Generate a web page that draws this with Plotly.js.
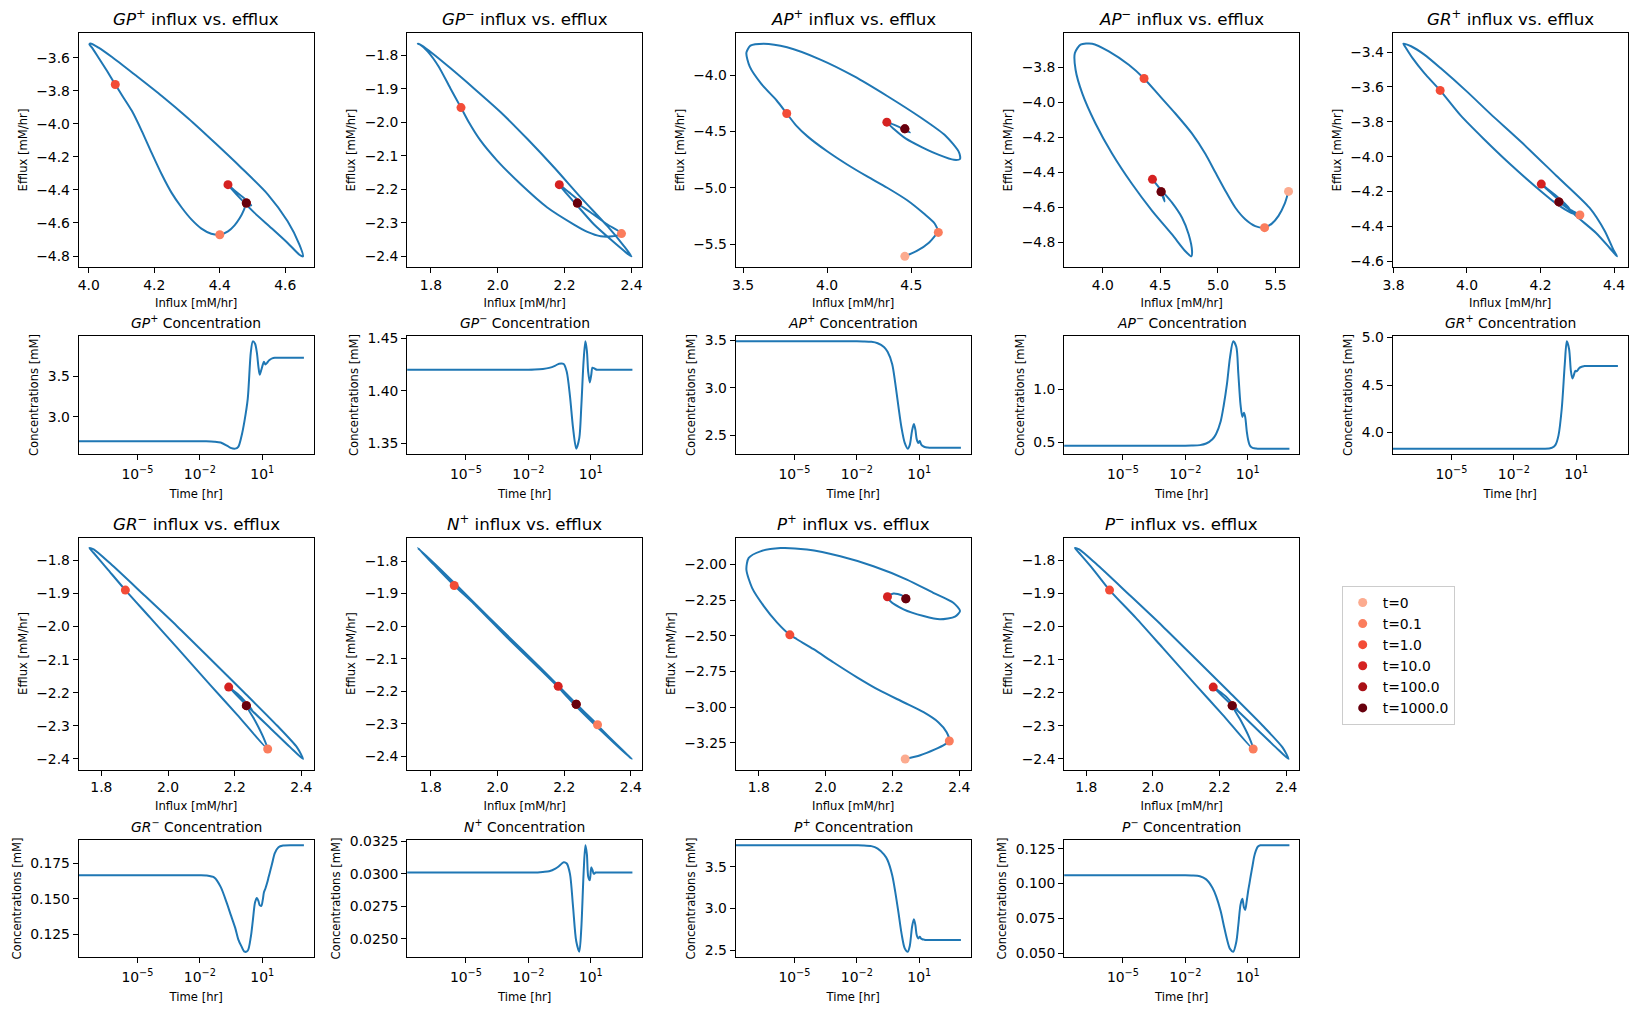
<!DOCTYPE html>
<html><head><meta charset="utf-8">
<script src="https://cdn.plot.ly/plotly-3.0.1.min.js"></script>
<style>html,body{margin:0;padding:0;background:#fff}#chart{width:1637px;height:1014px}</style>
</head><body><div id="chart"></div>
<script>
// ---------------- DATA ----------------
const speciesBase = ['GP','GP','AP','AP','GR','GR','N','P','P'];
const speciesSign = ['+','\u2212','+','\u2212','+','\u2212','+','+','\u2212'];
const markerTimes = ['t=0','t=0.1','t=1.0','t=10.0','t=100.0','t=1000.0'];

// phase-plane trajectories (influx, efflux) [mM/hr]
const influxGPp = [4.481,4.474,4.461,4.445,4.425,4.400,4.374,4.344,4.314,4.283,4.253,4.223,4.192,4.162,4.132,4.101,4.081,4.056,4.030,4.010,4.002,4.008,4.030,4.071,4.142,4.223,4.304,4.385,4.466,4.547,4.607,4.643,4.654,4.643,4.607,4.557,4.506,4.466,4.435,4.425,4.445,4.476,4.496,4.491,4.481];
const effluxGPp = [-4.479,-4.519,-4.570,-4.614,-4.651,-4.671,-4.665,-4.634,-4.580,-4.505,-4.418,-4.307,-4.176,-4.044,-3.923,-3.826,-3.762,-3.681,-3.600,-3.539,-3.519,-3.515,-3.539,-3.596,-3.705,-3.832,-3.968,-4.115,-4.267,-4.428,-4.590,-4.731,-4.802,-4.792,-4.721,-4.630,-4.539,-4.459,-4.392,-4.368,-4.404,-4.453,-4.493,-4.493,-4.479];

const influxGPm = [2.238,2.278,2.328,2.370,2.343,2.308,2.268,2.228,2.148,2.068,1.998,1.948,1.913,1.890,1.858,1.823,1.790,1.768,1.761,1.773,1.803,1.858,1.928,2.008,2.088,2.168,2.248,2.328,2.378,2.400,2.383,2.338,2.288,2.238,2.198,2.184,2.213,2.243,2.250,2.238];
const effluxGPm = [-2.241,-2.269,-2.305,-2.332,-2.340,-2.340,-2.327,-2.305,-2.254,-2.184,-2.114,-2.054,-1.999,-1.956,-1.898,-1.833,-1.788,-1.768,-1.765,-1.771,-1.793,-1.838,-1.898,-1.969,-2.049,-2.134,-2.224,-2.310,-2.370,-2.400,-2.388,-2.350,-2.305,-2.249,-2.204,-2.186,-2.209,-2.234,-2.244,-2.241];

const influxAPp = [4.462,4.536,4.605,4.645,4.661,4.639,4.575,4.476,4.357,4.238,4.119,4.000,3.885,3.815,3.760,3.700,3.610,3.540,3.520,3.544,3.623,3.762,3.960,4.159,4.357,4.556,4.704,4.784,4.790,4.754,4.665,4.565,4.466,4.397,4.355,4.427,4.492,4.462];
const effluxAPp = [-5.606,-5.556,-5.485,-5.418,-5.394,-5.315,-5.227,-5.109,-4.998,-4.898,-4.792,-4.675,-4.545,-4.445,-4.340,-4.225,-4.080,-3.925,-3.803,-3.739,-3.721,-3.753,-3.862,-4.009,-4.185,-4.376,-4.537,-4.684,-4.743,-4.751,-4.707,-4.640,-4.561,-4.478,-4.417,-4.458,-4.508,-4.476];

const influxAPm = [5.613,5.578,5.526,5.468,5.405,5.324,5.237,5.150,5.064,4.977,4.890,4.775,4.630,4.486,4.358,4.225,4.052,3.908,3.806,3.757,3.763,3.821,3.936,4.081,4.254,4.428,4.601,4.717,4.769,4.775,4.746,4.688,4.601,4.500,4.431,4.486,4.529,4.535,4.506];
const effluxAPm = [-4.510,-4.583,-4.650,-4.694,-4.717,-4.708,-4.669,-4.602,-4.506,-4.401,-4.295,-4.180,-4.065,-3.959,-3.865,-3.787,-3.710,-3.666,-3.672,-3.719,-3.815,-3.950,-4.122,-4.295,-4.468,-4.621,-4.756,-4.852,-4.881,-4.852,-4.756,-4.660,-4.574,-4.497,-4.441,-4.487,-4.545,-4.568,-4.512];

const influxGRp = [4.250,4.279,4.307,4.283,4.243,4.189,4.117,4.045,3.982,3.927,3.884,3.852,3.834,3.827,3.848,3.884,3.928,4.000,4.063,4.153,4.243,4.333,4.375,4.398,4.408,4.388,4.351,4.297,4.243,4.202,4.243,4.279,4.250];
const effluxGRp = [-4.259,-4.302,-4.334,-4.321,-4.269,-4.176,-4.042,-3.897,-3.762,-3.620,-3.521,-3.435,-3.377,-3.352,-3.367,-3.415,-3.492,-3.627,-3.753,-3.926,-4.109,-4.292,-4.427,-4.533,-4.571,-4.523,-4.437,-4.340,-4.234,-4.157,-4.225,-4.296,-4.259];

const influxGRm = [2.235,2.262,2.287,2.299,2.207,2.127,2.027,1.947,1.872,1.817,1.777,1.764,1.777,1.827,1.927,2.027,2.127,2.227,2.327,2.387,2.405,2.367,2.307,2.247,2.182,2.217,2.252,2.235];
const effluxGRm = [-2.239,-2.286,-2.337,-2.370,-2.266,-2.177,-2.064,-1.974,-1.890,-1.825,-1.778,-1.763,-1.767,-1.810,-1.904,-1.999,-2.098,-2.198,-2.299,-2.365,-2.400,-2.365,-2.307,-2.249,-2.183,-2.211,-2.251,-2.239];

const influxNp = [2.236,2.270,2.300,2.230,2.130,2.029,1.929,1.870,1.809,1.761,1.829,1.929,2.029,2.130,2.230,2.330,2.402,2.330,2.230,2.182,2.210,2.250,2.236];
const effluxNp = [-2.240,-2.273,-2.303,-2.235,-2.135,-2.035,-1.931,-1.875,-1.811,-1.760,-1.826,-1.927,-2.028,-2.129,-2.232,-2.336,-2.408,-2.340,-2.240,-2.187,-2.212,-2.256,-2.240];

const influxPp = [2.238,2.283,2.327,2.357,2.370,2.362,2.337,2.293,2.233,2.163,2.094,2.024,1.964,1.914,1.893,1.855,1.815,1.780,1.763,1.770,1.805,1.865,1.944,2.044,2.143,2.243,2.322,2.382,2.402,2.387,2.342,2.293,2.233,2.193,2.185,2.203,2.228,2.240];
const effluxPp = [-3.364,-3.338,-3.297,-3.262,-3.238,-3.176,-3.106,-3.036,-2.966,-2.885,-2.791,-2.687,-2.594,-2.524,-2.493,-2.407,-2.291,-2.163,-2.035,-1.953,-1.907,-1.884,-1.895,-1.942,-2.012,-2.105,-2.198,-2.268,-2.326,-2.365,-2.384,-2.361,-2.314,-2.256,-2.226,-2.203,-2.216,-2.240];

const influxPm = [2.238,2.265,2.290,2.301,2.209,2.129,2.029,1.949,1.870,1.819,1.779,1.766,1.779,1.829,1.929,2.029,2.129,2.229,2.329,2.389,2.407,2.369,2.309,2.249,2.181,2.219,2.254,2.238];
const effluxPm = [-2.239,-2.286,-2.337,-2.370,-2.266,-2.177,-2.064,-1.974,-1.890,-1.825,-1.778,-1.763,-1.767,-1.810,-1.904,-1.999,-2.098,-2.198,-2.299,-2.365,-2.400,-2.365,-2.307,-2.249,-2.183,-2.211,-2.251,-2.239];

// marker positions at t = 0, 0.1, 1, 10, 100, 1000
const mInGPp = [4.481,4.400,4.081,4.425,4.481,4.481], mOutGPp = [-4.479,-4.671,-3.762,-4.368,-4.479,-4.479];
const mInGPm = [2.238,2.370,1.890,2.184,2.238,2.238], mOutGPm = [-2.241,-2.332,-1.956,-2.186,-2.241,-2.241];
const mInAPp = [4.462,4.661,3.760,4.355,4.462,4.462], mOutAPp = [-5.606,-5.394,-4.340,-4.417,-4.476,-4.476];
const mInAPm = [5.613,5.405,4.358,4.431,4.506,4.506], mOutAPm = [-4.510,-4.717,-3.865,-4.441,-4.512,-4.512];
const mInGRp = [4.250,4.307,3.927,4.202,4.250,4.250], mOutGRp = [-4.259,-4.334,-3.620,-4.157,-4.259,-4.259];
const mInGRm = [2.235,2.299,1.872,2.182,2.235,2.235], mOutGRm = [-2.239,-2.370,-1.890,-2.183,-2.239,-2.239];
const mInNp  = [2.236,2.300,1.870,2.182,2.236,2.236], mOutNp  = [-2.240,-2.303,-1.875,-2.185,-2.240,-2.240];
const mInPp  = [2.238,2.370,1.893,2.185,2.240,2.240], mOutPp  = [-3.364,-3.238,-2.493,-2.226,-2.240,-2.240];
const mInPm  = [2.238,2.301,1.870,2.181,2.238,2.238], mOutPm  = [-2.239,-2.370,-1.890,-2.183,-2.239,-2.239];

// concentration time courses [mM] vs time [hr]
const timeHr = [1e-8,1e-4,1e-3,0.005,0.01,0.02,0.05,0.1,0.2,0.3,0.5,0.7,1,1.4,2,2.8,3.5,4.5,5.5,6.5,7.5,9,10.5,12,14,17,20,25,30,40,60,100,300,1000];
const concGPp = [2.700,2.700,2.700,2.700,2.700,2.699,2.694,2.683,2.645,2.618,2.608,2.630,2.76,2.95,3.22,3.79,3.93,3.90,3.79,3.62,3.52,3.58,3.64,3.68,3.645,3.665,3.69,3.71,3.72,3.727,3.729,3.729,3.729,3.729];
const concGPm = [1.420,1.420,1.420,1.420,1.420,1.4202,1.4208,1.4218,1.4240,1.4258,1.4255,1.4180,1.395,1.365,1.345,1.355,1.385,1.428,1.447,1.438,1.418,1.408,1.415,1.422,1.4215,1.4205,1.420,1.420,1.420,1.420,1.420,1.420,1.420,1.420];
const concAPp = [3.49,3.49,3.49,3.49,3.49,3.489,3.485,3.47,3.43,3.38,3.25,3.05,2.80,2.58,2.42,2.36,2.40,2.55,2.62,2.56,2.46,2.42,2.44,2.41,2.39,2.38,2.375,2.372,2.37,2.37,2.37,2.37,2.37,2.37];
const concAPm = [0.47,0.47,0.47,0.47,0.47,0.471,0.475,0.49,0.53,0.58,0.70,0.85,1.05,1.30,1.45,1.40,1.15,0.85,0.74,0.78,0.74,0.60,0.52,0.48,0.46,0.45,0.445,0.443,0.442,0.442,0.442,0.442,0.442,0.442];
const concGRp = [3.83,3.83,3.83,3.83,3.83,3.83,3.83,3.83,3.83,3.83,3.832,3.84,3.87,3.97,4.25,4.72,4.96,4.88,4.65,4.57,4.60,4.65,4.645,4.66,4.68,4.69,4.695,4.70,4.70,4.70,4.70,4.70,4.70,4.70];
const concGRm = [0.1665,0.1665,0.1665,0.1665,0.1665,0.1663,0.1648,0.1583,0.1467,0.139,0.1295,0.1215,0.1165,0.1128,0.1135,0.1230,0.1345,0.1475,0.1505,0.1485,0.1455,0.1450,0.149,0.1545,0.157,0.161,0.165,0.1705,0.175,0.182,0.1862,0.1873,0.1875,0.1875];
const concNp  = [0.0301,0.0301,0.0301,0.0301,0.0301,0.0301,0.03015,0.0302,0.0304,0.0306,0.0309,0.0308,0.0300,0.0275,0.0248,0.0240,0.0258,0.0300,0.0322,0.0315,0.0298,0.0295,0.0305,0.0303,0.0300,0.0301,0.0301,0.0301,0.0301,0.0301,0.0301,0.0301,0.0301,0.0301];
const concPp  = [3.76,3.76,3.76,3.76,3.76,3.759,3.75,3.72,3.65,3.58,3.40,3.20,2.95,2.70,2.52,2.48,2.55,2.78,2.87,2.80,2.68,2.64,2.66,2.64,2.63,2.625,2.62,2.62,2.62,2.62,2.62,2.62,2.62,2.62];
const concPm  = [0.106,0.106,0.106,0.106,0.106,0.1058,0.1052,0.103,0.097,0.091,0.080,0.070,0.060,0.053,0.051,0.058,0.070,0.085,0.089,0.083,0.081,0.088,0.095,0.100,0.106,0.113,0.119,0.124,0.1265,0.1275,0.1275,0.1275,0.1275,0.1275];

// tick labels
const phaseXTicks = [[4.0,4.2,4.4,4.6],[1.8,2.0,2.2,2.4],[3.5,4.0,4.5],[4.0,4.5,5.0,5.5],[3.8,4.0,4.2,4.4],[1.8,2.0,2.2,2.4],[1.8,2.0,2.2,2.4],[1.8,2.0,2.2,2.4],[1.8,2.0,2.2,2.4]];
const phaseYTicks = [[-3.6,-3.8,-4.0,-4.2,-4.4,-4.6,-4.8],[-1.8,-1.9,-2.0,-2.1,-2.2,-2.3,-2.4],[-4.0,-4.5,-5.0,-5.5],[-3.8,-4.0,-4.2,-4.4,-4.6,-4.8],[-3.4,-3.6,-3.8,-4.0,-4.2,-4.4,-4.6],[-1.8,-1.9,-2.0,-2.1,-2.2,-2.3,-2.4],[-1.8,-1.9,-2.0,-2.1,-2.2,-2.3,-2.4],[-2.00,-2.25,-2.50,-2.75,-3.00,-3.25],[-1.8,-1.9,-2.0,-2.1,-2.2,-2.3,-2.4]];
const concYTicks = [[3.0,3.5],[1.35,1.40,1.45],[2.5,3.0,3.5],[0.5,1.0],[4.0,4.5,5.0],[0.125,0.150,0.175],[0.0250,0.0275,0.0300,0.0325],[2.5,3.0,3.5],[0.050,0.075,0.100,0.125]];
const timeTickVals = [1e-5,1e-2,10];
const timeTickText = ['10<sup>\u22125</sup>','10<sup>\u22122</sup>','10<sup>1</sup>'];

// ---------------- BUILD ----------------
const influx = [influxGPp,influxGPm,influxAPp,influxAPm,influxGRp,influxGRm,influxNp,influxPp,influxPm];
const efflux = [effluxGPp,effluxGPm,effluxAPp,effluxAPm,effluxGRp,effluxGRm,effluxNp,effluxPp,effluxPm];
const mIn = [mInGPp,mInGPm,mInAPp,mInAPm,mInGRp,mInGRm,mInNp,mInPp,mInPm];
const mOut = [mOutGPp,mOutGPm,mOutAPp,mOutAPm,mOutGRp,mOutGRm,mOutNp,mOutPp,mOutPm];
const conc = [concGPp,concGPm,concAPp,concAPm,concGRp,concGRm,concNp,concPp,concPm];

const W = 1637, H = 1014;
const colLeft = [78.7, 407.2, 735.7, 1064.2, 1392.7];
const boxW = 235;
const phaseRows = [[33, 267], [537.5, 769.5]];
const concRows = [[336, 454], [840, 957]];
const lineColor = '#1f77b4';
const markerColors = ['#fcab8f','#fb7d5d','#f34c37','#d52221','#a91016','#67000d'];
const FONT = 'DejaVu Sans, sans-serif';

function padRange(arr) {
  const lo = Math.min(...arr), hi = Math.max(...arr), d = hi - lo;
  return [lo - 0.05 * d, hi + 0.05 * d];
}
function decimals(ticks) {
  const step = Math.abs(ticks[1] - ticks[0]);
  const s = String(Number(step.toPrecision(6)));
  return s.includes('.') ? s.split('.')[1].length : 0;
}
function tickText(ticks) {
  const d = decimals(ticks);
  return ticks.map(v => v.toFixed(d).replace('-', '\u2212'));
}
function baseAxis() {
  return {
    showline: true, mirror: true, linecolor: '#000', linewidth: 1,
    ticks: 'outside', ticklen: 5, tickwidth: 1, tickcolor: '#000',
    showgrid: false, zeroline: false, fixedrange: true,
    tickfont: {family: FONT, size: 13.9, color: '#000'}
  };
}
function axName(n) { return n === 1 ? '' : String(n); }

const traces = [];
const layout = {
  width: W, height: H, margin: {l: 0, r: 0, t: 0, b: 0},
  paper_bgcolor: '#fff', plot_bgcolor: '#fff',
  font: {family: FONT, color: '#000'},
  showlegend: true,
  legend: {
    x: 1341.7 / W, y: 1 - 586 / H, xanchor: 'left', yanchor: 'top',
    bordercolor: '#cccccc', borderwidth: 1, bgcolor: '#fff',
    font: {family: FONT, size: 13.9, color: '#000'},
    tracegroupgap: 0, itemwidth: 30
  },
  annotations: []
};

for (let i = 0; i < 9; i++) {
  const col = i % 5, row = Math.floor(i / 5);
  const left = colLeft[col], right = left + boxW;
  const label = '<i>' + speciesBase[i] + '</i><sup>' + speciesSign[i] + '</sup>';

  // phase-plane subplot
  const pn = 2 * i + 1, cn = 2 * i + 2;
  const [pt, pb] = phaseRows[row];
  const xa = baseAxis(), ya = baseAxis();
  xa.domain = [left / W, right / W];
  ya.domain = [1 - pb / H, 1 - pt / H];
  xa.anchor = 'y' + axName(pn); ya.anchor = 'x' + axName(pn);
  xa.range = padRange(influx[i].concat(mIn[i]));
  ya.range = padRange(efflux[i].concat(mOut[i]));
  xa.tickvals = phaseXTicks[i]; xa.ticktext = tickText(phaseXTicks[i]);
  ya.tickvals = phaseYTicks[i]; ya.ticktext = tickText(phaseYTicks[i]);
  xa.title = {text: 'Influx [mM/hr]', font: {family: FONT, size: 11.6, color: '#000'}, standoff: 7};
  ya.title = {text: 'Efflux [mM/hr]', font: {family: FONT, size: 11.6, color: '#000'}, standoff: 6};
  layout['xaxis' + axName(pn)] = xa;
  layout['yaxis' + axName(pn)] = ya;

  traces.push({
    type: 'scatter', mode: 'lines', x: influx[i], y: efflux[i],
    xaxis: 'x' + axName(pn), yaxis: 'y' + axName(pn),
    line: {color: lineColor, width: 2, shape: 'spline', smoothing: 0.7},
    showlegend: false, hoverinfo: 'skip'
  });
  for (let k = 0; k < 6; k++) {
    traces.push({
      type: 'scatter', mode: 'markers', x: [mIn[i][k]], y: [mOut[i][k]],
      xaxis: 'x' + axName(pn), yaxis: 'y' + axName(pn),
      marker: {color: markerColors[k], size: 9, line: {width: 0}},
      name: markerTimes[k], legendgroup: 'g' + k, showlegend: i === 0
    });
  }
  layout.annotations.push({
    xref: 'paper', yref: 'paper', x: (left + boxW / 2) / W, y: 1 - (pt - 15) / H,
    xanchor: 'center', yanchor: 'middle', showarrow: false,
    text: label + ' influx vs. efflux', font: {family: FONT, size: 16.7, color: '#000'}
  });

  // concentration subplot
  const [ct, cb] = concRows[row];
  const xc = baseAxis(), yc = baseAxis();
  xc.domain = [left / W, right / W];
  yc.domain = [1 - cb / H, 1 - ct / H];
  xc.anchor = 'y' + axName(cn); yc.anchor = 'x' + axName(cn);
  xc.type = 'log';
  xc.range = [-7.82, 3.47];
  xc.tickvals = timeTickVals; xc.ticktext = timeTickText;
  xc.ticklabelstandoff = 2;
  yc.range = padRange(conc[i]);
  yc.tickvals = concYTicks[i]; yc.ticktext = tickText(concYTicks[i]);
  xc.title = {text: 'Time [hr]', font: {family: FONT, size: 11.6, color: '#000'}, standoff: 9};
  yc.title = {text: 'Concentrations [mM]', font: {family: FONT, size: 11.6, color: '#000'}, standoff: 6};
  layout['xaxis' + axName(cn)] = xc;
  layout['yaxis' + axName(cn)] = yc;

  traces.push({
    type: 'scatter', mode: 'lines', x: timeHr, y: conc[i],
    xaxis: 'x' + axName(cn), yaxis: 'y' + axName(cn),
    line: {color: lineColor, width: 2, shape: 'spline', smoothing: 0.8},
    showlegend: false, hoverinfo: 'skip'
  });
  layout.annotations.push({
    xref: 'paper', yref: 'paper', x: (left + boxW / 2) / W, y: 1 - (ct - 13.8) / H,
    xanchor: 'center', yanchor: 'middle', showarrow: false,
    text: label + ' Concentration', font: {family: FONT, size: 13.9, color: '#000'}
  });
}

Plotly.newPlot('chart', traces, layout, {staticPlot: true, displayModeBar: false});
</script>
</body></html>
